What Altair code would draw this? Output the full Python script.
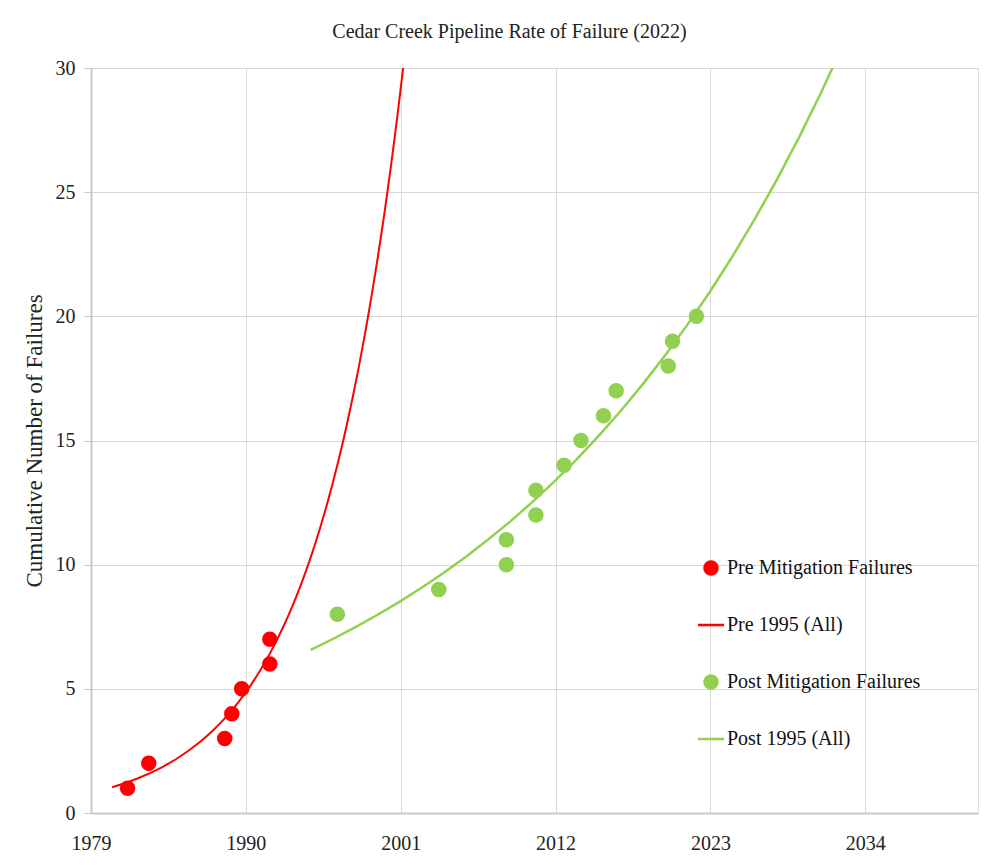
import altair as alt
import pandas as pd

# Data
pre_years = [1981.6, 1983.1, 1988.5, 1989.0, 1989.7, 1991.7, 1991.7]
pre_counts = [1, 2, 3, 4, 5, 6, 7]
post_years = [1996.5, 2003.7, 2008.5, 2008.5, 2010.6, 2010.6, 2012.6,
              2013.8, 2015.4, 2016.3, 2020.0, 2020.3, 2022.0]
post_counts = [8, 9, 10, 11, 12, 13, 14, 15, 16, 17, 18, 19, 20]

x_ticks = [1979, 1990, 2001, 2012, 2023, 2034]
y_ticks = [0, 5, 10, 15, 20, 25, 30]

series_names = ["Pre Mitigation Failures", "Pre 1995 (All)",
                "Post Mitigation Failures", "Post 1995 (All)"]
series_colors = ["#ff0000", "#ff0000", "#92d050", "#92d050"]
series_shapes = ["circle", "M-2,0L2,0", "circle", "M-2,0L2,0"]

pre_extent = [1980.5, 2003]
post_extent = [1994.6, 2034]

df = pd.DataFrame({
    "year": pre_years + post_years,
    "count": pre_counts + post_counts,
    "series": ["Pre Mitigation Failures"] * len(pre_years)
    + ["Post Mitigation Failures"] * len(post_years),
})

FONT = "Liberation Serif"

x_enc = alt.X("year:Q",
              scale=alt.Scale(domain=[1979, 2042], nice=False, zero=False),
              axis=alt.Axis(values=x_ticks, format="d", title=None, ticks=False,
                            labelPadding=20, labelFontSize=20, labelFont=FONT,
                            labelColor="#222", domainColor="#c8c8c8", domainWidth=2,
                            gridColor="#d9d9d9", labelFlush=False))
y_enc = alt.Y("count:Q",
              scale=alt.Scale(domain=[0, 30], nice=False),
              axis=alt.Axis(values=y_ticks, title="Cumulative Number of Failures",
                            titleFont=FONT, titleFontSize=23, titleFontWeight="normal",
                            titleColor="#222", titlePadding=9,
                            labelFontSize=20, labelFont=FONT, labelColor="#222",
                            tickSize=7, tickColor="#c8c8c8", labelPadding=9,
                            domainColor="#c8c8c8", domainWidth=2,
                            gridColor="#d9d9d9"))

legend = alt.Legend(title=None, orient="none", legendX=610, legendY=490,
                    labelFont=FONT, labelFontSize=20, labelColor="#111",
                    labelLimit=400,
                    symbolSize=170, symbolStrokeWidth=2.5, rowPadding=35,
                    labelOffset=6, padding=0)

fill_scale = alt.Scale(domain=series_names, range=series_colors)
stroke_scale = alt.Scale(domain=series_names, range=series_colors)
shape_scale = alt.Scale(domain=series_names, range=series_shapes)

points = alt.Chart(df).mark_point(filled=True, opacity=1, size=170, strokeWidth=2.5).encode(
    x=x_enc, y=y_enc,
    fill=alt.Fill("series:N", scale=fill_scale, legend=legend),
    stroke=alt.Stroke("series:N", scale=stroke_scale, legend=legend),
    shape=alt.Shape("series:N", scale=shape_scale, legend=legend),
)

pre_line = alt.Chart(df).transform_filter(
    alt.datum.series == "Pre Mitigation Failures"
).transform_regression(
    "year", "count", method="exp", extent=pre_extent
).transform_calculate(
    series="'Pre 1995 (All)'"
).mark_line(strokeWidth=2, clip=True).encode(
    x=x_enc, y=y_enc,
    stroke=alt.Stroke("series:N", scale=stroke_scale, legend=legend),
)

post_line = alt.Chart(df).transform_filter(
    alt.datum.series == "Post Mitigation Failures"
).transform_regression(
    "year", "count", method="exp", extent=post_extent
).transform_calculate(
    series="'Post 1995 (All)'"
).mark_line(strokeWidth=2.5, clip=True).encode(
    x=x_enc, y=y_enc,
    stroke=alt.Stroke("series:N", scale=stroke_scale, legend=legend),
)

chart = alt.layer(pre_line, post_line, points).properties(
    width=887, height=745,
    title=alt.TitleParams("Cedar Creek Pipeline Rate of Failure (2022)",
                          font=FONT, fontSize=20, fontWeight="normal",
                          color="#222", offset=16, dx=-25),
    autosize=alt.AutoSizeParams(type="none"),
    padding={"left": 83, "top": 60, "right": 15, "bottom": 47},
).configure_view(stroke=None).configure(background="white")

chart.save("out.html", embed_options={"renderer": "svg", "actions": False})
